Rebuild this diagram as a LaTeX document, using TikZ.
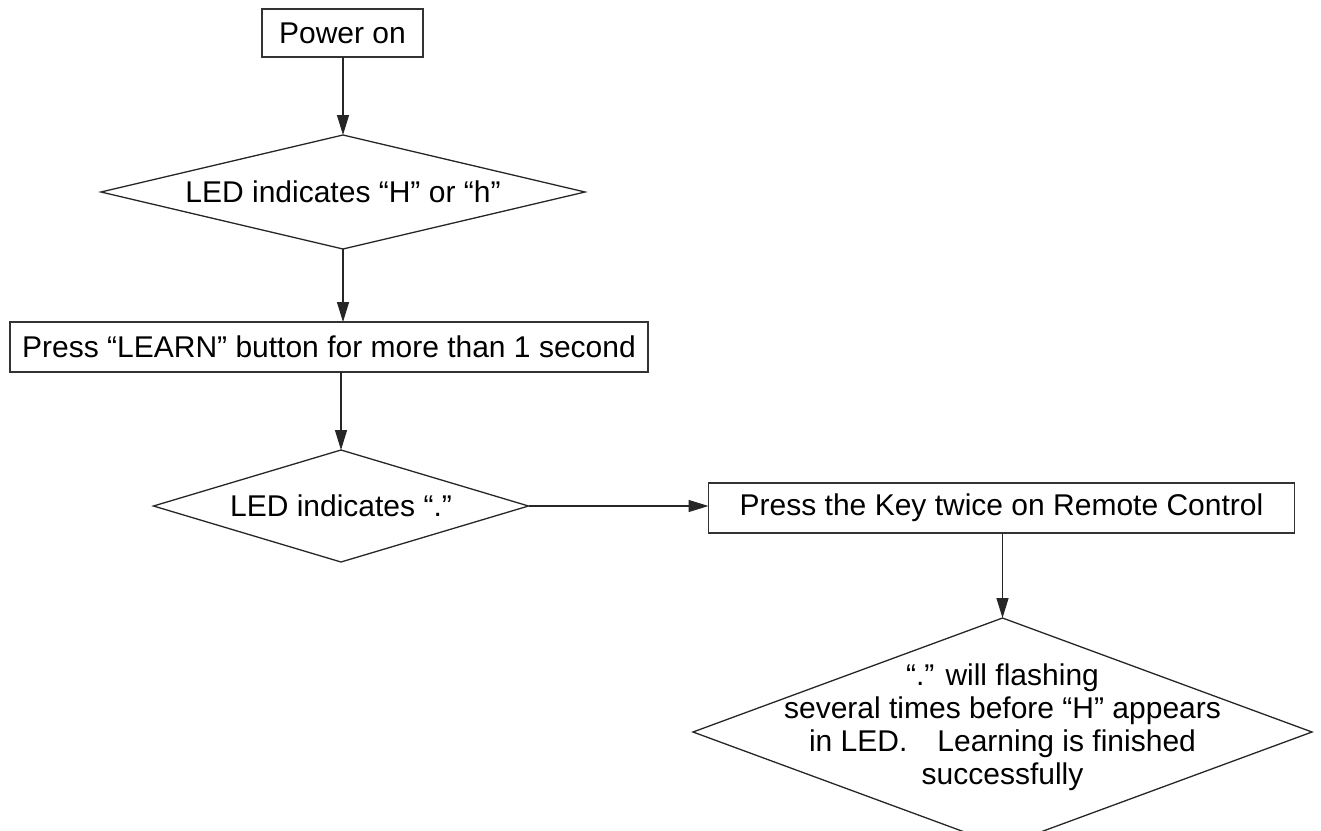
\documentclass[tikz,border=0pt]{standalone}
\usepackage{fontspec}
\setmainfont{Liberation Sans}
\usetikzlibrary{shapes.geometric,arrows.meta}
\tikzset{
  boxnode/.style={draw=black!80, line width=1.3pt, rectangle, inner sep=0pt, outer sep=0pt, font=\fontsize{30}{33}\selectfont},
  dianode/.style={draw=black!85, line width=1.3pt, diamond, inner sep=0pt, outer sep=0pt},
  txtnode/.style={inner sep=0pt, align=center, font=\fontsize{30}{33}\selectfont},
  flow/.style={draw=black!85, line width=1.3pt, -{Triangle[length=20pt,width=12pt]}}
}
\begin{document}
\begin{tikzpicture}[x=1pt,y=-1pt]
\useasboundingbox (0,0) rectangle (1321,830);
\node[boxnode, minimum width=161pt, minimum height=48pt] (b1) at (342.5,33) {Power on};
\node[dianode, minimum width=484pt, minimum height=114pt] (d1) at (343,192) {};
\node[txtnode] (t1) at (d1.center) {LED indicates “H” or “h”};
\node[boxnode, minimum width=638pt, minimum height=50pt] (b2) at (329,347) {Press “LEARN” button for more than 1 second};
\node[dianode, minimum width=375pt, minimum height=112pt] (d2) at (341,506) {};
\node[txtnode] (t2) at (d2.center) {LED indicates “.”};
\node[boxnode, minimum width=586pt, minimum height=50pt] (b3) at (1001.5,508) {Press the Key twice on Remote Control};
\node[dianode, minimum width=619pt, minimum height=228pt] (d3) at (1002.5,732) {};
\node[txtnode] (t3) at (1002.5,727) {“.” will flashing\\several times before “H” appears\\in LED.\quad Learning is finished\\successfully};
\draw[flow] (b1.south -| d1.north) -- (d1.north);
\draw[flow] (d1.south) -- (d1.south |- b2.north);
\draw[flow] (d2.north |- b2.south) -- (d2.north);
\draw[flow] (d2.east) -- (d2.east -| b3.west);
\draw[flow] (b3.south -| d3.north) -- (d3.north);
\end{tikzpicture}
\end{document}
